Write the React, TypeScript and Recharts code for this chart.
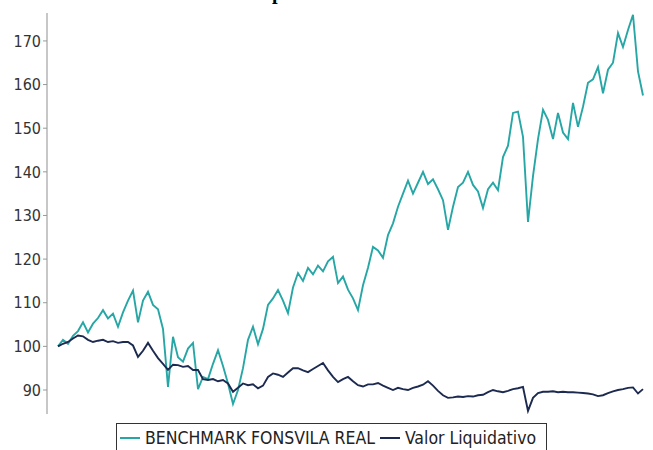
import { LineChart, Line, XAxis, YAxis } from 'recharts';

// one entry every ~trading week
const benchmark = [
  100, 101.5, 100.6, 102.4, 103.5, 105.5, 103.2, 105.2, 106.5, 108.3,
  106.4, 107.5, 104.5, 107.8, 110.5, 112.8, 105.5, 110.5, 112.5, 109.5,
  108.5, 104, 90.7, 102.2, 97.5, 96.5, 99.5, 100.8, 90.2, 93,
  92.5, 96, 99.1, 95.5, 91.5, 86.8, 90, 95, 101.5, 104.5,
  100.5, 104, 109.5, 111, 112.9, 110.5, 107.6, 113.5, 116.8, 115,
  118, 116.5, 118.5, 117.2, 119.5, 120.5, 114.5, 116, 113, 111,
  108.3, 114, 118, 122.8, 122, 120.3, 125.5, 128.2, 132, 135,
  138, 135, 137.5, 140, 137.2, 138.3, 136, 133.5, 126.7, 132,
  136.5, 137.5, 140, 137, 135.5, 131.7, 136, 137.5, 135.8, 143.4,
  146, 153.5, 153.8, 148, 128.5, 139, 147.5, 154.2, 151.9, 147.5,
  153.5, 149, 147.5, 155.8, 150.3, 154.9, 160.4, 161.2, 164, 158,
  163.4, 165, 171.8, 168.6, 172.5, 176, 163, 157.5,
];

const valorLiquidativo = [
  100, 100.6, 101, 101.8, 102.5, 102.3, 101.5, 101, 101.3, 101.5,
  101, 101.2, 100.8, 101, 101, 100.2, 97.6, 99, 100.8, 99,
  97.3, 96, 94.6, 95.8, 95.7, 95.3, 95.5, 94.6, 94.6, 92.5,
  92.3, 92.5, 92, 92.3, 91.5, 89.6, 90.5, 91.5, 91.1, 91.3,
  90.4, 91, 93, 93.8, 93.5, 93, 94, 95, 95, 94.5,
  94.1, 94.8, 95.5, 96.2, 94.5, 93, 91.8, 92.5, 93, 92,
  91.1, 90.8, 91.3, 91.3, 91.6, 91, 90.5, 90, 90.5, 90.2,
  90, 90.5, 90.8, 91.2, 92, 91, 89.8, 88.8, 88.2, 88.3,
  88.5, 88.4, 88.6, 88.5, 88.8, 88.9, 89.5, 90, 89.7, 89.5,
  89.8, 90.2, 90.4, 90.7, 85.2, 88.2, 89.3, 89.6, 89.6, 89.7,
  89.5, 89.6, 89.5, 89.5, 89.4, 89.3, 89.2, 89, 88.6, 88.8,
  89.3, 89.7, 90, 90.2, 90.5, 90.6, 89.2, 90.2,
];

const yTicks = [90, 100, 110, 120, 130, 140, 150, 160, 170];
const seriesNames = ['BENCHMARK FONSVILA REAL', 'Valor Liquidativo'];
const seriesColors = ['#27a6a6', '#1c2a50'];

const rows = benchmark.map((b, i) => ({ i, bench: b, vl: valorLiquidativo[i] }));

const font = '"DejaVu Sans Condensed", "DejaVu Sans", sans-serif';

export default function App() {
  return (
    <div style={{ position: 'absolute', left: 0, top: 0, width: 653, height: 450, background: '#fff', overflow: 'hidden' }}>
      {/* title sits above the crop, only the descender shows */}
      <div
        style={{
          position: 'absolute', left: 231, top: -17.75, fontFamily: '"Liberation Serif", serif',
          fontWeight: 'bold', fontSize: 20, lineHeight: '20px', color: '#000', whiteSpace: 'nowrap',
        }}
      >
        Comparativa
      </div>

      <LineChart width={653} height={450} data={rows} margin={{ top: 13, right: 0, left: 0, bottom: 36 }}>
        <XAxis
          dataKey="i"
          type="number"
          domain={[0, benchmark.length - 1]}
          padding={{ left: 11, right: 10 }}
          height={0}
          tick={false}
          tickLine={false}
          axisLine={{ stroke: '#b4b4b4', strokeWidth: 1.5 }}
        />
        <XAxis
          xAxisId="top"
          orientation="top"
          dataKey="i"
          type="number"
          domain={[0, benchmark.length - 1]}
          height={0}
          tick={false}
          tickLine={false}
          axisLine={{ stroke: '#c8c8c8', strokeWidth: 1.5 }}
        />
        <YAxis
          width={47}
          type="number"
          domain={[84.5, 176.4]}
          ticks={yTicks}
          allowDataOverflow
          tickSize={4}
          tickLine={{ stroke: '#999' }}
          axisLine={{ stroke: '#b4b4b4', strokeWidth: 1.5 }}
          tick={{ fill: '#333', fontFamily: font, fontSize: 16 }}
        />
        <Line
          dataKey="bench"
          stroke={seriesColors[0]}
          strokeWidth={1.9}
          dot={false}
          isAnimationActive={false}
        />
        <Line
          dataKey="vl"
          stroke={seriesColors[1]}
          strokeWidth={1.9}
          dot={false}
          isAnimationActive={false}
        />
      </LineChart>

      <div
        style={{
          position: 'absolute', left: 116, top: 423, width: 431, height: 30, border: '1px solid #333',
          display: 'flex', alignItems: 'center', paddingLeft: 3, boxSizing: 'border-box',
          fontFamily: font, fontSize: 17.5, color: '#222', whiteSpace: 'nowrap', paddingBottom: 1,
        }}
      >
        {seriesNames.map((name, k) => (
          <div key={name} style={{ display: 'flex', alignItems: 'center', marginRight: 5 }}>
            <div style={{ width: 20, height: 2, background: seriesColors[k], marginRight: 5 }} />
            <span>{name}</span>
          </div>
        ))}
      </div>
    </div>
  );
}
